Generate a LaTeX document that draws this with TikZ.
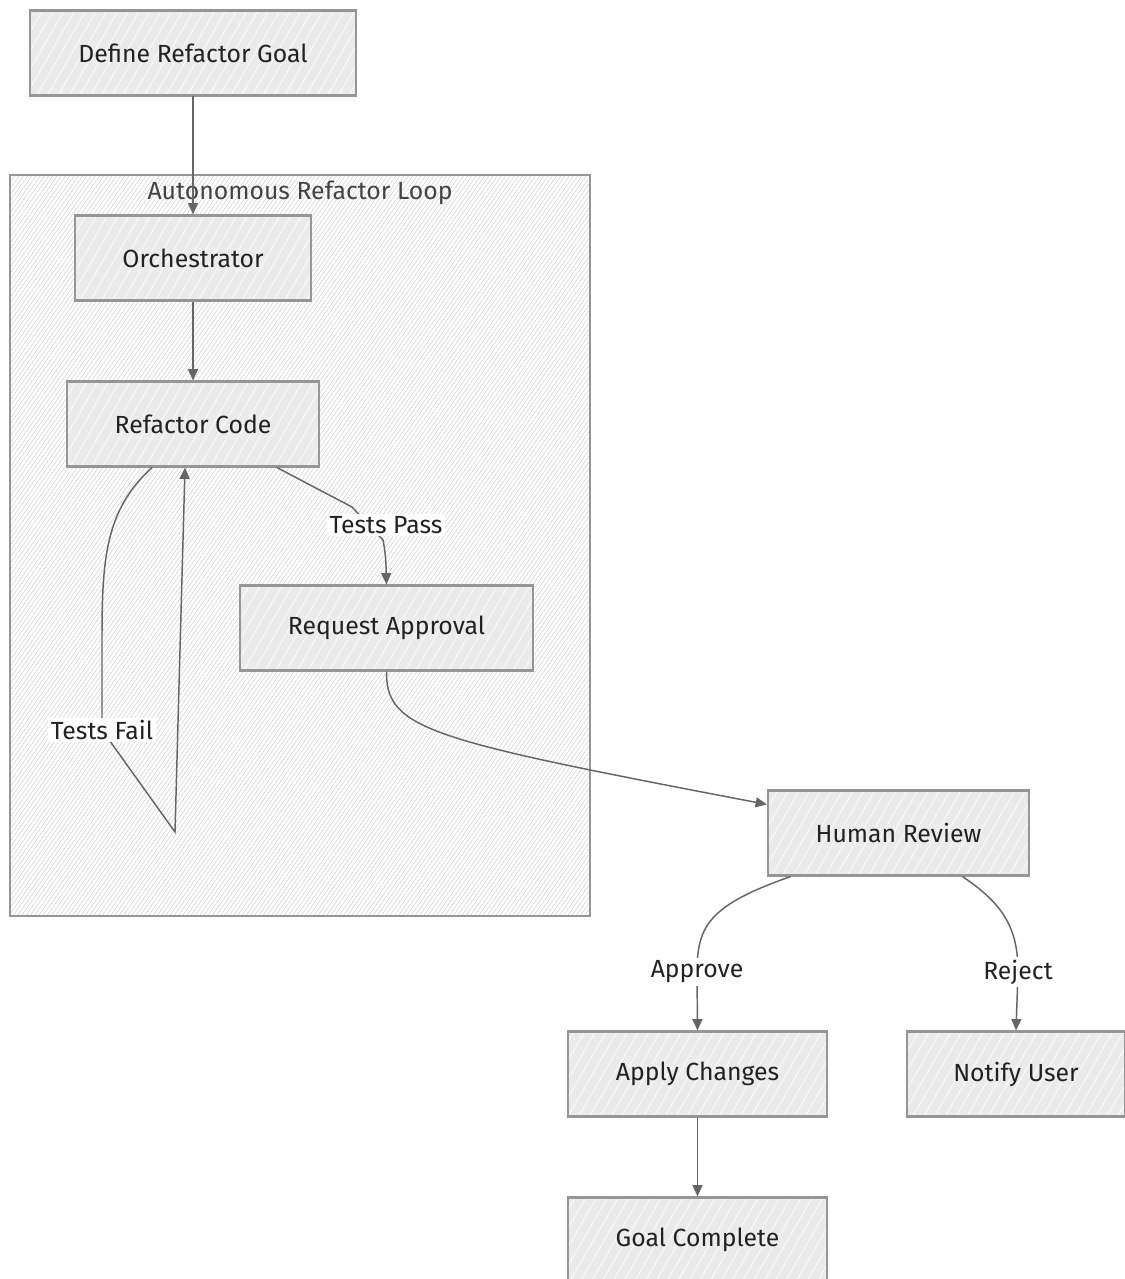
\documentclass[tikz,border=0pt]{standalone}
\usepackage{fontspec}
\setmainfont{Fira Sans}
\usetikzlibrary{arrows.meta,patterns.meta,calc}
\definecolor{boxfill}{HTML}{EBEBEB}
\definecolor{boxline}{HTML}{969696}
\definecolor{edgecol}{HTML}{666666}
\definecolor{txt}{HTML}{222222}
\definecolor{clusterhatch}{HTML}{CFCFCF}
\tikzset{
  stepbox/.style={rectangle, draw=boxline, line width=1.6pt,
    preaction={fill=boxfill},
    pattern={Lines[angle=60,distance=7pt,line width=0.5pt]}, pattern color=white,
    minimum height=63.75pt, inner sep=0pt, text=txt,
    font=\fontsize{18.6}{22}\selectfont},
  edge/.style={draw=edgecol, line width=1.1pt},
  arrow/.style={edge, -{Triangle[length=8.5pt,width=7.5pt]}},
  lbl/.style={fill=white, inner sep=2pt, text=txt, font=\fontsize{18.6}{22}\selectfont},
}
\begin{document}
\begin{tikzpicture}[x=0.75pt,y=-0.75pt]
\useasboundingbox (0,0) rectangle (1125,1279);
\fill[white] (0,0) rectangle (1125,1279);

% loop cluster
\draw[draw=boxline, line width=1.5pt, preaction={fill=white},
  pattern={Lines[angle=55,distance=2.6pt,line width=0.35pt]}, pattern color=clusterhatch]
  (10,175) rectangle (590,916);
\node[text=txt!85, font=\fontsize{18.6}{22}\selectfont] (cl) at (300,193) {Autonomous Refactor Loop};

% steps
\node[stepbox, minimum width=244.5pt] (goal) at (193,53) {Define Refactor Goal};
\node[stepbox, minimum width=177pt] (orch) at (193,258) {Orchestrator};
\node[stepbox, minimum width=189pt] (rc) at (193,424) {Refactor Code};
\node[stepbox, minimum width=219.75pt] (ra) at (386.5,628) {Request Approval};
\node[stepbox, minimum width=195.75pt] (hr) at (898.5,833) {Human Review};
\node[stepbox, minimum width=194.25pt] (ac) at (697.5,1074) {Apply Changes};
\node[stepbox, minimum width=163.5pt] (nu) at (1016,1074) {Notify User};
\node[stepbox, minimum width=194.25pt] (gc) at (697.5,1240) {Goal Complete};

% connectors
\draw[arrow] (goal) -- (orch);
\draw[arrow] (orch) -- (rc);
\draw[arrow] (ac) -- (gc);

% tests pass
\coordinate (tpstart) at ($(rc.south)+(84,0)$);
\draw[arrow] (tpstart) -- (352,507) -- (383,540)
  .. controls (386,555) and (386,565) .. (ra.north);

% tests fail loop back to refactor
\coordinate (tfstart) at ($(rc.south)+(-41,0)$);
\coordinate (tfturn) at (175,832);
\coordinate (tfend) at ($(rc.south)+(-8,0)$);
\draw[arrow] (tfstart) .. controls (105,510) and (102,560) .. (102,640)
  -- (102,730) -- (tfturn) -- (tfend);

% approval request to review
\coordinate (hrin) at ($(hr.north west)+(0,15)$);
\draw[arrow] (ra.south) .. controls (386,730) and (430,740) .. (hrin);

% review outcomes
\coordinate (apstart) at ($(hr.south)+(-108,0)$);
\coordinate (rjstart) at ($(hr.south)+(64,0)$);
\draw[arrow] (apstart) .. controls (710,905) and (697,925) .. (697,972) -- (ac.north);
\draw[arrow] (rjstart) .. controls (1005,905) and (1018,930) .. (1018,972) -- (nu.north);

% edge labels
\node[lbl] (lpass) at (386,525) {Tests Pass};
\node[lbl] (lfail) at (102,730) {Tests Fail};
\node[lbl] (lappr) at (697,972) {Approve};
\node[lbl] (lrej) at (1018,972) {Reject};
\end{tikzpicture}
\end{document}
